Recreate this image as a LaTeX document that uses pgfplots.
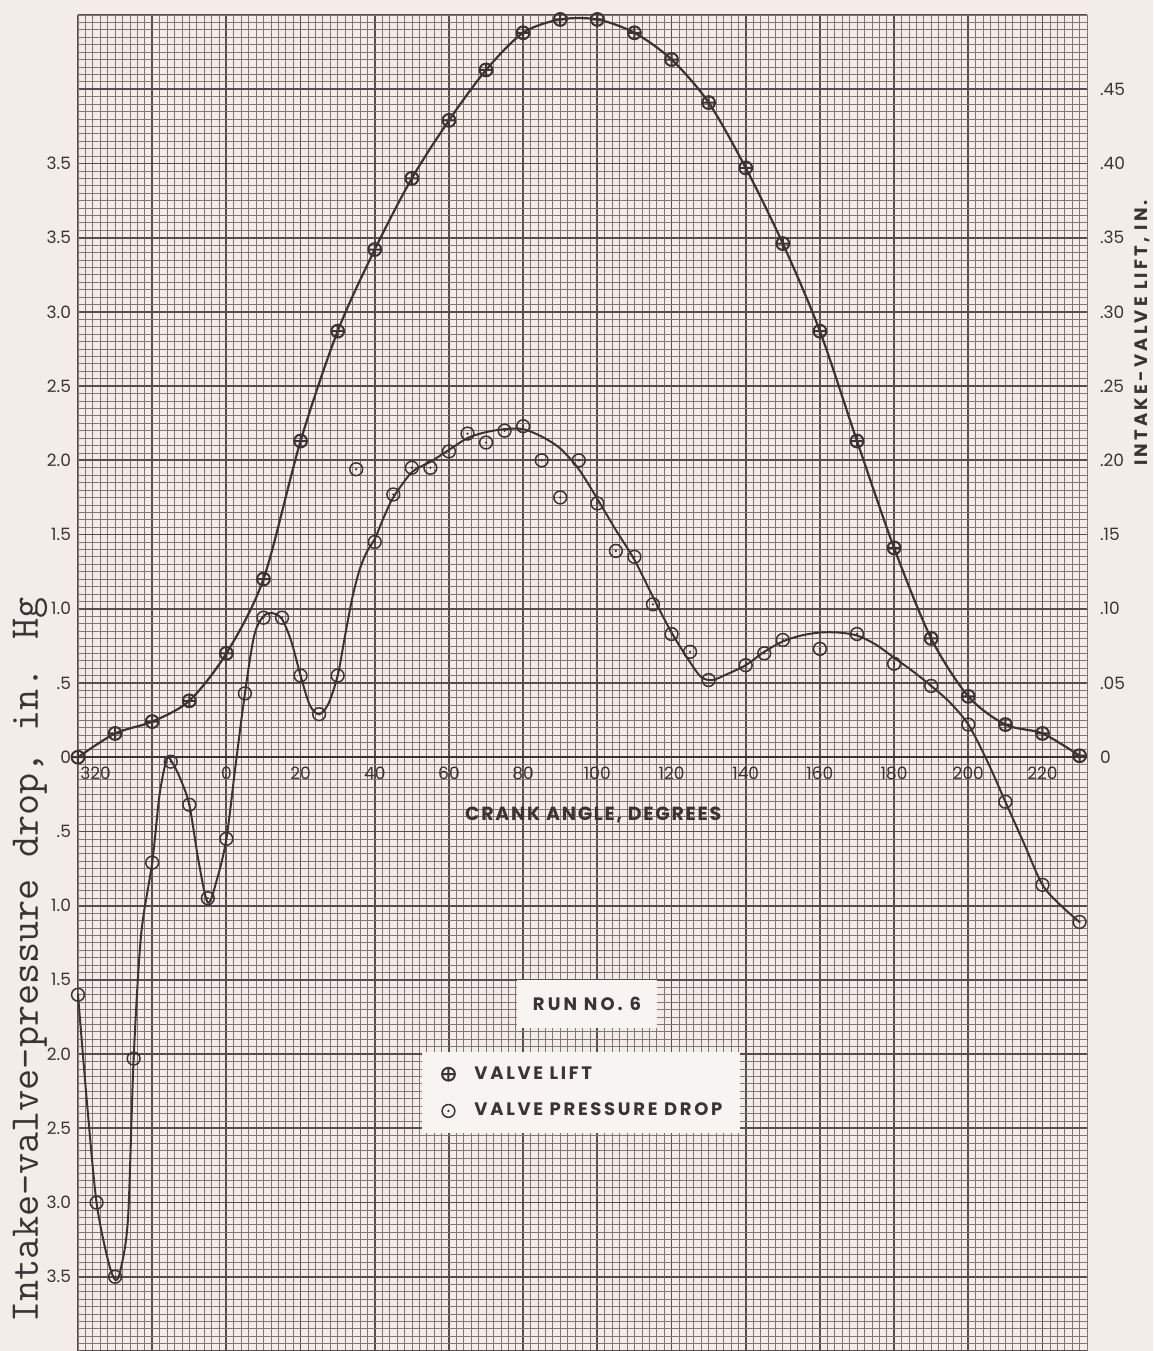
\documentclass[border=0pt]{standalone}
\usepackage{fontspec}
\setmainfont{Poppins}
\usepackage{pgfplots}
\pgfplotsset{compat=1.18}
\usepackage{pgfplotstable}
\usetikzlibrary{plotmarks}

\definecolor{paper}{RGB}{243,237,233}
\definecolor{paperlt}{RGB}{248,244,241}
\definecolor{ink}{RGB}{58,52,52}
\definecolor{gridmaj}{RGB}{85,78,78}
\definecolor{gridmin}{RGB}{128,119,117}

\newcommand\ls[1]{\addfontfeature{LetterSpace=#1}}

\pgfdeclareplotmark{odot}{%
  \pgfpathcircle{\pgfpointorigin}{\pgfplotmarksize}\pgfusepathqstroke
  \pgfpathcircle{\pgfpointorigin}{0.2\pgfplotmarksize}\pgfusepathqfill}

% valve pressure drop, measured points (in. Hg; negative = plotted below zero)
\pgfplotstableread{
deg drop
-40 -1.60
-35 -3.00
-30 -3.50
-25 -2.03
-20 -0.71
-15 -0.03
-10 -0.32
-5 -0.95
0 -0.55
5 0.43
10 0.94
15 0.94
20 0.55
25 0.29
30 0.55
35 1.94
40 1.45
45 1.77
50 1.95
55 1.95
60 2.06
65 2.18
70 2.12
75 2.20
80 2.23
85 2.00
90 1.75
95 2.00
100 1.71
105 1.39
110 1.35
115 1.03
120 0.83
125 0.71
130 0.52
140 0.62
145 0.70
150 0.79
160 0.73
170 0.83
180 0.63
190 0.48
200 0.22
210 -0.30
220 -0.86
230 -1.11
}\dropdata

% faired curve through the pressure-drop points
\pgfplotstableread{
deg drop
-40 -1.60
-37.5 -2.35
-35 -3.00
-32 -3.38
-30 -3.52
-28.5 -3.45
-26.5 -3.10
-25 -2.03
-23 -1.20
-20 -0.71
-18 -0.25
-16 -0.01
-14.5 -0.04
-12.5 -0.14
-10 -0.32
-7.5 -0.70
-5 -0.98
-2.5 -0.82
0 -0.55
2.5 -0.05
5 0.43
7.5 0.82
10 0.95
12.5 0.97
15 0.93
17.5 0.78
20 0.55
22.5 0.35
25 0.29
27.5 0.36
30 0.55
32 0.82
34 1.08
36 1.27
38 1.39
40 1.47
42.5 1.62
45 1.75
50 1.92
55 1.99
60 2.07
65 2.15
70 2.19
75 2.21
80 2.21
85 2.16
90 2.08
95 1.94
100 1.74
105 1.53
110 1.33
115 1.08
120 0.84
125 0.64
128 0.54
131 0.52
135 0.56
140 0.62
145 0.71
150 0.78
155 0.82
160 0.84
165 0.84
170 0.82
175 0.76
180 0.67
185 0.58
190 0.48
195 0.37
200 0.22
205 -0.02
210 -0.30
215 -0.58
220 -0.86
225 -1.00
230 -1.11
}\dropcurve

% intake-valve lift, in.
\pgfplotstableread{
deg lift
-40 0.000
-30 0.016
-20 0.024
-10 0.038
0 0.070
10 0.120
20 0.213
30 0.287
40 0.342
50 0.390
60 0.429
70 0.463
80 0.488
90 0.497
100 0.497
110 0.488
120 0.470
130 0.441
140 0.397
150 0.346
160 0.287
170 0.213
180 0.141
190 0.080
200 0.041
210 0.022
220 0.016
230 0.001
}\liftdata

\tikzset{xlab/.style={anchor=north, yshift=-4.5pt, inner sep=0pt,
  font=\fontsize{8.5}{10}\selectfont, text=ink}}

\begin{document}
\begin{tikzpicture}
\fill[paper] (-39pt,0) rectangle (537.5pt,675.5pt);
\begin{axis}[
  at={(0,0)}, anchor=south west,
  scale only axis, width=504.5pt, height=668pt,
  xmin=-40, xmax=232, ymin=-4, ymax=5,
  clip=false,
  axis background/.style={fill=paper},
  axis line style={draw=gridmin, line width=0.4pt},
  xtick={-40,-20,...,220},
  minor xtick={-40,-38,...,232},
  xticklabels={},
  ytick={-4,-3.5,...,5},
  minor ytick={-4,-3.95,...,5},
  yticklabels={{},3.5,3.0,2.5,2.0,1.5,1.0,.5,0,.5,1.0,1.5,2.0,2.5,3.0,3.5,3.5},
  yticklabel style={font=\fontsize{8.5}{10}\selectfont, text=ink},
  major tick length=0pt, minor tick length=0pt,
  grid=both,
  major grid style={gridmaj, line width=0.9pt},
  minor grid style={gridmin, line width=0.35pt},
  extra y ticks={0}, extra y tick labels={},
  extra y tick style={grid=major, major grid style={ink, line width=1.2pt}},
]
\addplot[smooth, ink, line width=1pt, no marks] table[x=deg,y=drop]{\dropcurve};
\addplot[only marks, mark=odot, mark size=3.2pt, ink, line width=0.75pt] table[x=deg,y=drop]{\dropdata};

\node[xlab, anchor=north west, xshift=1pt] at (axis cs:-40,0) {320};
\node[xlab] at (axis cs:0,0) {0};
\node[xlab] at (axis cs:20,0) {20};
\node[xlab] at (axis cs:40,0) {40};
\node[xlab] at (axis cs:60,0) {60};
\node[xlab] at (axis cs:80,0) {80};
\node[xlab] at (axis cs:100,0) {100};
\node[xlab] at (axis cs:120,0) {120};
\node[xlab] at (axis cs:140,0) {140};
\node[xlab] at (axis cs:160,0) {160};
\node[xlab] at (axis cs:180,0) {180};
\node[xlab] at (axis cs:200,0) {200};
\node[xlab] at (axis cs:220,0) {220};

\node[font=\bfseries\fontsize{9.5}{11}\selectfont\ls{9}, text=ink] at (axis cs:98.9,-0.39) {CRANK ANGLE, DEGREES};
\node[rotate=90, font=\ttfamily\fontsize{20.5}{22}\selectfont, text=ink] at (rel axis cs:-0.0476,0.2927) {Intake-valve-pressure drop, in. Hg};
\end{axis}

\begin{axis}[
  at={(0,0)}, anchor=south west,
  scale only axis, width=504.5pt, height=668pt,
  xmin=-40, xmax=232, ymin=-0.4, ymax=0.5,
  clip=false,
  axis x line=none, axis y line*=right,
  y axis line style={draw=none},
  xtick=\empty,
  ytick={0,0.05,...,0.45},
  yticklabels={0,.05,.10,.15,.20,.25,.30,.35,.40,.45},
  yticklabel style={font=\fontsize{8.5}{10}\selectfont, text=ink, xshift=3pt},
  major tick length=0pt,
  legend style={at={(0.341,0.2238)}, anchor=north west, fill=paperlt, draw=none,
    font=\bfseries\fontsize{9}{11}\selectfont\ls{15}, text=ink,
    inner xsep=7pt, inner ysep=5pt, row sep=6.5pt},
  legend cell align=left,
  legend image code/.code={\path[draw=none] (0pt,0pt) -- (17pt,0pt);
    \draw[#1] plot coordinates {(6pt,0pt)};},
]
\addplot[smooth, ink, line width=1.1pt, no marks, forget plot] table[x=deg,y=lift]{\liftdata};
\addplot[only marks, mark=oplus, mark size=3.2pt, ink, line width=1pt] table[x=deg,y=lift]{\liftdata};
\addlegendentry{VALVE LIFT}
\addlegendimage{only marks, mark=odot, mark size=3.2pt, ink, line width=0.75pt}
\addlegendentry{VALVE PRESSURE DROP}

\node[fill=paperlt, minimum width=70pt, minimum height=24pt, font=\bfseries\fontsize{9}{11}\selectfont\ls{17}, text=ink] at (rel axis cs:0.5045,0.2597) {RUN NO. 6};
\node[rotate=90, font=\bfseries\fontsize{9}{10}\selectfont\ls{18}, text=ink] at (rel axis cs:1.0545,0.762) {INTAKE-VALVE LIFT, IN.};
\end{axis}
\pgfresetboundingbox
\path[use as bounding box] (-39pt,0) rectangle (537.5pt,675.5pt);
\end{tikzpicture}
\end{document}
